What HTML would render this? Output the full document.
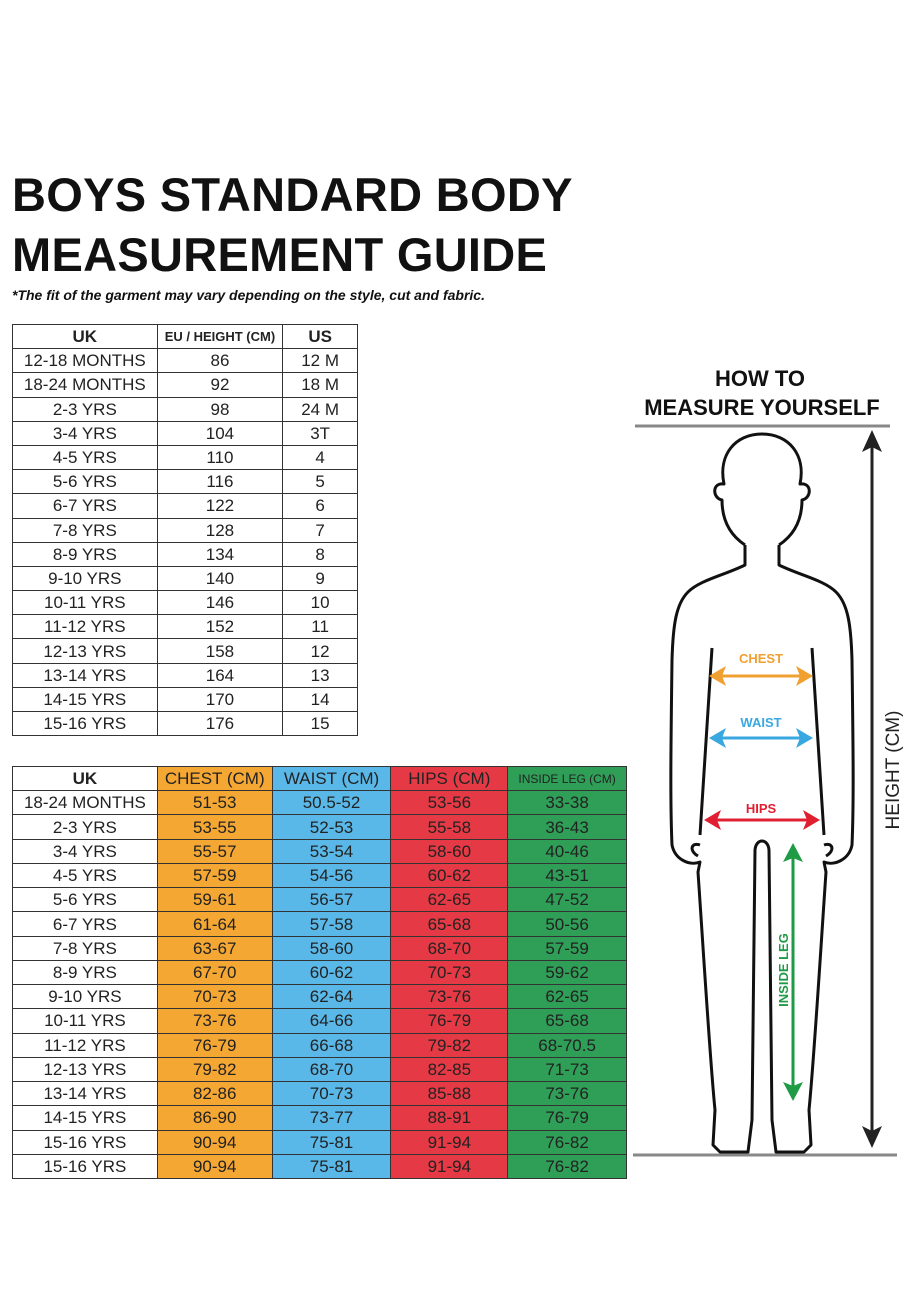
<!DOCTYPE html>
<html><head><meta charset="utf-8"><style>
body{margin:0;background:#fff;width:924px;height:1294px;position:relative;font-family:"Liberation Sans",sans-serif;overflow:hidden}
.t{position:absolute;left:12px;font-weight:bold;font-size:47px;letter-spacing:0.3px;color:#111;line-height:1}
.sub{position:absolute;left:12px;top:287px;font-size:14px;font-weight:bold;font-style:italic;color:#111}
table{position:absolute;border-collapse:collapse;left:12px}
td{border:1.5px solid #333;height:22.7px;padding:0;text-align:center;font-size:17px;color:#222;line-height:1}
tr{height:24.2px}
tr:first-child td{font-weight:bold}
.o{background:#f5a733}.b{background:#5ab8e8}.r{background:#e53a45}.g{background:#2f9e57}
</style></head><body>
<div class="t" style="top:171px">BOYS STANDARD BODY</div>
<div class="t" style="top:231px">MEASUREMENT GUIDE</div>
<div class="sub">*The fit of the garment may vary depending on the style, cut and fabric.</div>
<table style="top:324px;width:346px;height:412px">
<colgroup><col style="width:145px"><col style="width:126px"><col style="width:75px"></colgroup>
<tr><td>UK</td><td style="font-size:13px">EU / HEIGHT (CM)</td><td>US</td></tr>
<tr><td>12-18 MONTHS</td><td>86</td><td>12 M</td></tr>
<tr><td>18-24 MONTHS</td><td>92</td><td>18 M</td></tr>
<tr><td>2-3 YRS</td><td>98</td><td>24 M</td></tr>
<tr><td>3-4 YRS</td><td>104</td><td>3T</td></tr>
<tr><td>4-5 YRS</td><td>110</td><td>4</td></tr>
<tr><td>5-6 YRS</td><td>116</td><td>5</td></tr>
<tr><td>6-7 YRS</td><td>122</td><td>6</td></tr>
<tr><td>7-8 YRS</td><td>128</td><td>7</td></tr>
<tr><td>8-9 YRS</td><td>134</td><td>8</td></tr>
<tr><td>9-10 YRS</td><td>140</td><td>9</td></tr>
<tr><td>10-11 YRS</td><td>146</td><td>10</td></tr>
<tr><td>11-12 YRS</td><td>152</td><td>11</td></tr>
<tr><td>12-13 YRS</td><td>158</td><td>12</td></tr>
<tr><td>13-14 YRS</td><td>164</td><td>13</td></tr>
<tr><td>14-15 YRS</td><td>170</td><td>14</td></tr>
<tr><td>15-16 YRS</td><td>176</td><td>15</td></tr>
</table>
<table style="top:766px;width:615px;height:413px">
<colgroup><col style="width:145px"><col style="width:115px"><col style="width:119px"><col style="width:117px"><col style="width:119px"></colgroup>
<tr><td>UK</td><td class="o" style="font-weight:normal">CHEST (CM)</td><td class="b" style="font-weight:normal">WAIST (CM)</td><td class="r" style="font-weight:normal">HIPS (CM)</td><td class="g" style="font-weight:normal;font-size:12px">INSIDE LEG (CM)</td></tr>
<tr><td>18-24 MONTHS</td><td class="o">51-53</td><td class="b">50.5-52</td><td class="r">53-56</td><td class="g">33-38</td></tr>
<tr><td>2-3 YRS</td><td class="o">53-55</td><td class="b">52-53</td><td class="r">55-58</td><td class="g">36-43</td></tr>
<tr><td>3-4 YRS</td><td class="o">55-57</td><td class="b">53-54</td><td class="r">58-60</td><td class="g">40-46</td></tr>
<tr><td>4-5 YRS</td><td class="o">57-59</td><td class="b">54-56</td><td class="r">60-62</td><td class="g">43-51</td></tr>
<tr><td>5-6 YRS</td><td class="o">59-61</td><td class="b">56-57</td><td class="r">62-65</td><td class="g">47-52</td></tr>
<tr><td>6-7 YRS</td><td class="o">61-64</td><td class="b">57-58</td><td class="r">65-68</td><td class="g">50-56</td></tr>
<tr><td>7-8 YRS</td><td class="o">63-67</td><td class="b">58-60</td><td class="r">68-70</td><td class="g">57-59</td></tr>
<tr><td>8-9 YRS</td><td class="o">67-70</td><td class="b">60-62</td><td class="r">70-73</td><td class="g">59-62</td></tr>
<tr><td>9-10 YRS</td><td class="o">70-73</td><td class="b">62-64</td><td class="r">73-76</td><td class="g">62-65</td></tr>
<tr><td>10-11 YRS</td><td class="o">73-76</td><td class="b">64-66</td><td class="r">76-79</td><td class="g">65-68</td></tr>
<tr><td>11-12 YRS</td><td class="o">76-79</td><td class="b">66-68</td><td class="r">79-82</td><td class="g">68-70.5</td></tr>
<tr><td>12-13 YRS</td><td class="o">79-82</td><td class="b">68-70</td><td class="r">82-85</td><td class="g">71-73</td></tr>
<tr><td>13-14 YRS</td><td class="o">82-86</td><td class="b">70-73</td><td class="r">85-88</td><td class="g">73-76</td></tr>
<tr><td>14-15 YRS</td><td class="o">86-90</td><td class="b">73-77</td><td class="r">88-91</td><td class="g">76-79</td></tr>
<tr><td>15-16 YRS</td><td class="o">90-94</td><td class="b">75-81</td><td class="r">91-94</td><td class="g">76-82</td></tr>
<tr><td>15-16 YRS</td><td class="o">90-94</td><td class="b">75-81</td><td class="r">91-94</td><td class="g">76-82</td></tr>
</table>
<svg width="924" height="1294" style="position:absolute;left:0;top:0" font-family="Liberation Sans, sans-serif">
<text x="760" y="386" text-anchor="middle" font-size="22" font-weight="bold" fill="#111">HOW TO</text>
<text x="762" y="415" text-anchor="middle" font-size="22" font-weight="bold" fill="#111">MEASURE YOURSELF</text>
<line x1="635" y1="426" x2="890" y2="426" stroke="#888" stroke-width="3"/>
<line x1="633" y1="1155" x2="897" y2="1155" stroke="#888" stroke-width="3"/>
<line x1="872" y1="440" x2="872" y2="1140" stroke="#222" stroke-width="3"/>
<path d="M872,430 L862,452 L872,447 L882,452Z M872,1148 L862,1126 L872,1131 L882,1126Z" fill="#222"/>
<text transform="translate(899,770) rotate(-90)" text-anchor="middle" font-size="19" fill="#222">HEIGHT (CM)</text>
<g fill="none" stroke="#111" stroke-width="3" stroke-linejoin="round">
<path d="M745,545 C730,535 722,520 722,500 C712,498 712,482 724,484 C718,455 735,434 762,434 C789,434 806,455 800,484 C812,482 812,498 802,500 C802,520 794,535 779,545"/>
<path d="M745,545 L745,565 C725,575 700,580 688,592 C676,604 673,625 672,660 C671,740 670,800 672,845 C675,860 690,866 700,862 L698,872 C704,960 710,1060 715,1110 L713,1145 L720,1152 L748,1152 L752,1120 C753,1040 754,950 755,850 C756,838 768,838 769,850 C770,950 771,1040 772,1120 L776,1152 L804,1152 L811,1145 L809,1110 C814,1060 820,960 826,872 L824,862 C834,866 849,860 852,845 C854,800 853,740 852,660 C851,625 848,604 836,592 C824,580 799,575 779,565 L779,545"/>
<path d="M712,648 L700,835 M812,648 L824,835"/>
<path d="M700,845 C692,842 688,850 698,856 M824,845 C832,842 836,850 826,856"/>
</g>
<g stroke-width="3">
<line x1="718" y1="676" x2="804" y2="676" stroke="#f0a030"/>
<path d="M709,676 L726,666 L722,676 L726,686Z M813,676 L796,666 L800,676 L796,686Z" fill="#f0a030"/>
<text x="761" y="663" text-anchor="middle" font-size="13" font-weight="bold" fill="#f0a030">CHEST</text>
<line x1="718" y1="738" x2="804" y2="738" stroke="#3aa8e0"/>
<path d="M709,738 L726,728 L722,738 L726,748Z M813,738 L796,728 L800,738 L796,748Z" fill="#3aa8e0"/>
<text x="761" y="727" text-anchor="middle" font-size="13" font-weight="bold" fill="#3aa8e0">WAIST</text>
<line x1="713" y1="820" x2="811" y2="820" stroke="#e02030"/>
<path d="M704,820 L721,810 L717,820 L721,830Z M820,820 L803,810 L807,820 L803,830Z" fill="#e02030"/>
<text x="761" y="813" text-anchor="middle" font-size="13" font-weight="bold" fill="#e02030">HIPS</text>
<line x1="793" y1="852" x2="793" y2="1092" stroke="#1f9a45"/>
<path d="M793,843 L783,862 L793,858 L803,862Z M793,1101 L783,1082 L793,1086 L803,1082Z" fill="#1f9a45"/>
<text transform="translate(788,970) rotate(-90)" text-anchor="middle" font-size="13" font-weight="bold" fill="#1f9a45">INSIDE LEG</text>
</g>
</svg>
</body></html>
